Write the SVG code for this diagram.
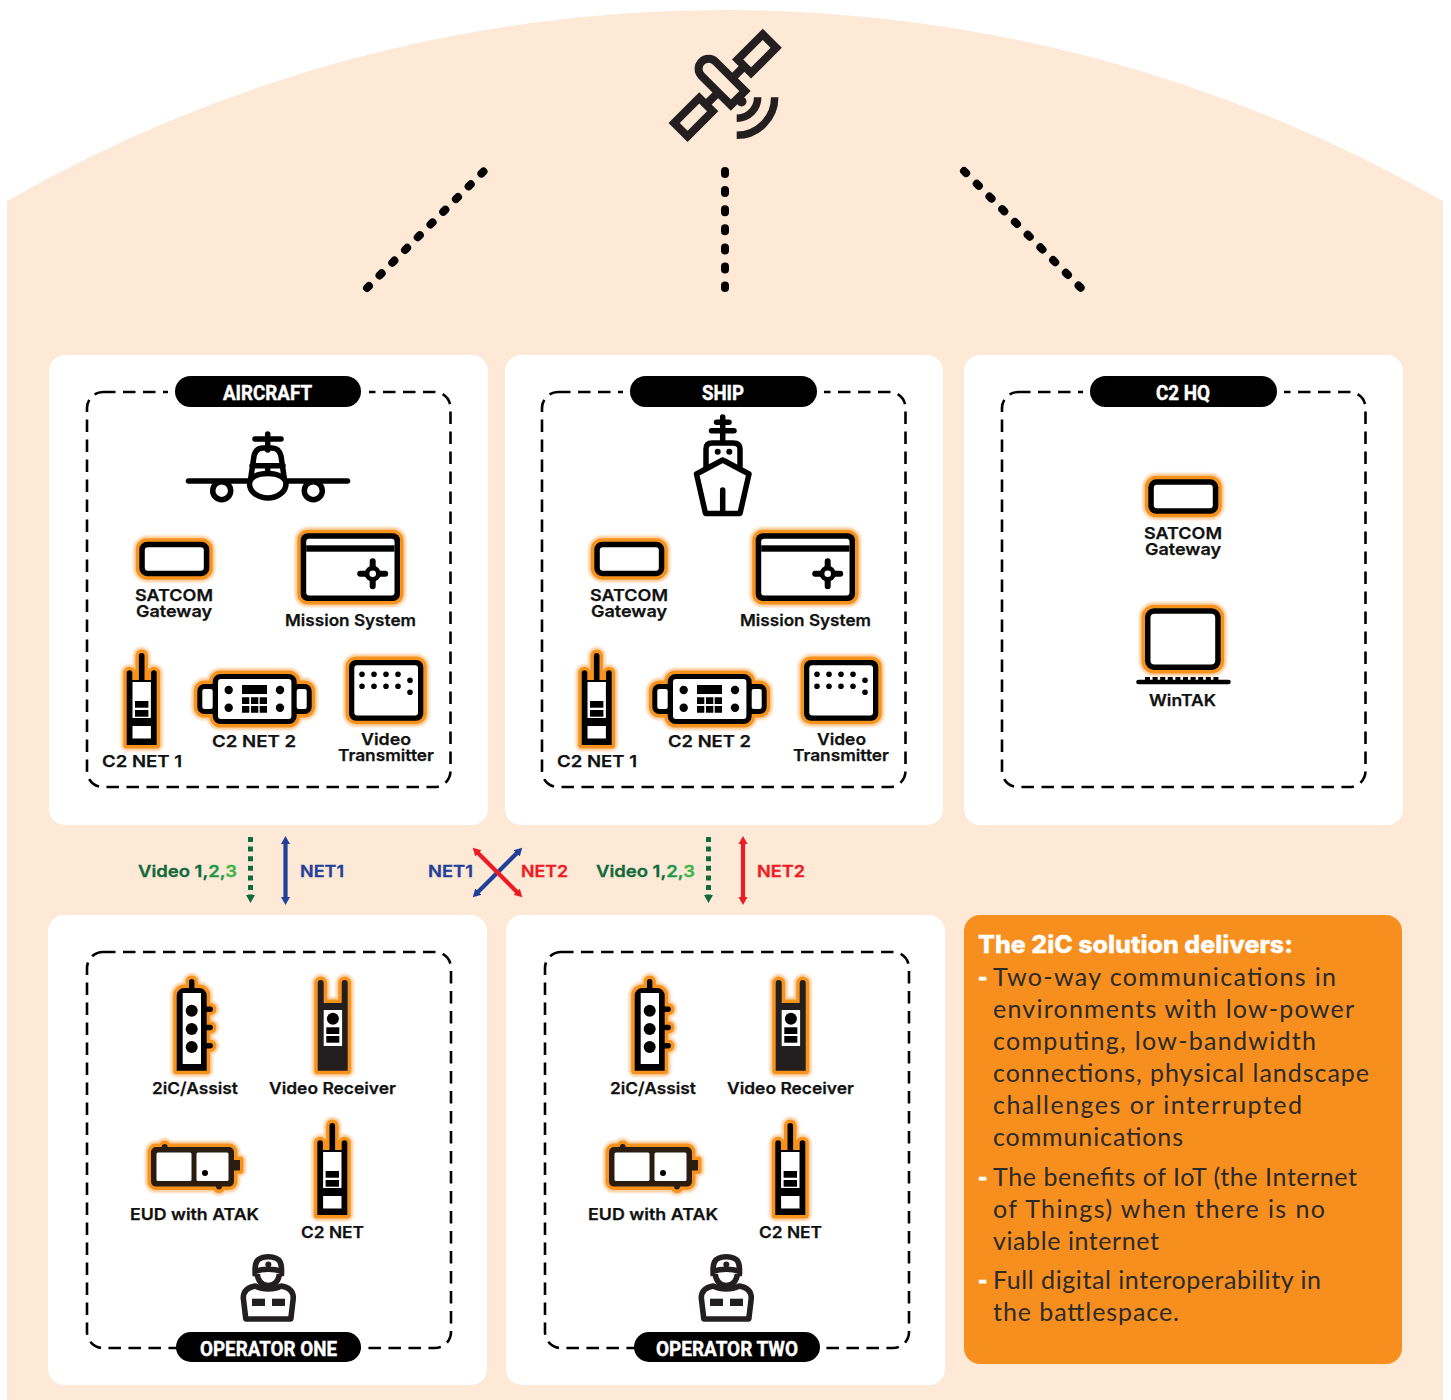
<svg xmlns="http://www.w3.org/2000/svg" width="1451" height="1400" viewBox="0 0 1451 1400">
<style>
text{font-family:"Inter","Lato","Liberation Sans",sans-serif}
.l{font-size:16.6px;font-weight:600;fill:#111;stroke:#111;stroke-width:.25}
.p{font-family:"Liberation Sans Narrow","Roboto","Liberation Sans",sans-serif;font-size:21px;font-weight:700;fill:#fff;stroke:#fff;stroke-width:.45}
.b{font-family:"Lato","Inter",sans-serif;font-size:25px;font-weight:400;fill:#2b2a29}
.dash{font-family:"Lato","Inter",sans-serif;font-size:25px;font-weight:900;fill:#fff;stroke:#fff;stroke-width:.8}
.a{font-size:16.4px;font-weight:600;stroke-width:.3}
.panel{fill:#fff}
.box{fill:none;stroke:#000;stroke-width:2.6;stroke-dasharray:12.5 7.5}
.pill{fill:#000}
.gap{fill:#fff}
.h{fill:#fbcf9f;stroke:#fbcf9f;stroke-width:12;stroke-linejoin:round;filter:url(#soft)}
.o{fill:#f7931e;stroke:#f7931e;stroke-width:7;stroke-linejoin:round;filter:url(#soft2)}
.k{fill:#000}
.w{fill:#fff}
.s{fill:none;stroke:#000;stroke-width:5.5;stroke-linecap:round;stroke-linejoin:round}
.sk{fill:#fee8d6;stroke:#231f20;stroke-width:8;stroke-linejoin:miter}
.dots{fill:none;stroke:#000;stroke-width:8;stroke-linecap:round}
.blue{stroke:#21409a;stroke-width:4.2;fill:none}
.red{stroke:#ed1c24;stroke-width:4.2;fill:none}
.green{stroke:#0f6b3a;stroke-width:5;fill:none;stroke-dasharray:5 4.6}
</style>
<defs>
<filter id="soft" x="-30%" y="-30%" width="160%" height="160%"><feGaussianBlur stdDeviation="1.1"/></filter>
<filter id="soft2" x="-30%" y="-30%" width="160%" height="160%"><feGaussianBlur stdDeviation=".5"/></filter>
<marker id="mb" markerUnits="userSpaceOnUse" markerWidth="10" markerHeight="10" refX="2" refY="5" orient="auto-start-reverse"><path d="M0 .5L8 5L0 9.5Z" fill="#21409a"/></marker>
<marker id="mr" markerUnits="userSpaceOnUse" markerWidth="10" markerHeight="10" refX="2" refY="5" orient="auto-start-reverse"><path d="M0 .5L8 5L0 9.5Z" fill="#ed1c24"/></marker>
<marker id="mg" markerUnits="userSpaceOnUse" markerWidth="10" markerHeight="10" refX="2" refY="5" orient="auto"><path d="M0 .5L8 5L0 9.5Z" fill="#0f6b3a"/></marker>

<rect id="sil-gw" width="70" height="34.5" rx="8"/>
<g id="i-gw"><use href="#sil-gw" class="h"/><use href="#sil-gw" class="o"/><use href="#sil-gw" class="k"/><rect class="w" x="5.5" y="5.5" width="59" height="23.5" rx="3"/></g>

<rect id="sil-ms" width="99.3" height="67.7" rx="7"/>
<g id="i-ms"><use href="#sil-ms" class="h"/><use href="#sil-ms" class="o"/><use href="#sil-ms" class="k"/><rect class="w" x="5.5" y="5.5" width="88.3" height="56.7" rx="3"/><rect class="k" x="5.5" y="12" width="88.3" height="6.4"/>
<path class="s" d="M72 28V53M59.5 40.4H84.5" style="stroke-width:6"/><circle class="k" cx="72" cy="40.4" r="8"/><circle class="w" cx="72" cy="40.4" r="3.3"/></g>

<path id="sil-r" d="M-15 20a2.8 2.8 0 0 1 5.6 0V27H-2.8V2.8a2.8 2.8 0 0 1 5.6 0V27H9.4V20a2.8 2.8 0 0 1 5.6 0V92H-15Z"/>
<g id="i-r"><use href="#sil-r" class="h"/><use href="#sil-r" class="o"/><use href="#sil-r" class="k"/><rect class="w" x="-9.2" y="29" width="18.4" height="36"/><rect class="w" x="-9.2" y="73" width="18.4" height="12.5"/><rect class="k" x="-6.7" y="48" width="13.4" height="6.7"/><rect class="k" x="-6.7" y="57" width="13.4" height="6.7"/></g>

<path id="sil-c" d="M23.4 0H91.4a8 8 0 0 1 8 8V10H107.4a7 7 0 0 1 7 7V33a7 7 0 0 1 -7 7H99.4V42a8 8 0 0 1 -8 8H23.4a8 8 0 0 1 -8 -8V40H7a7 7 0 0 1 -7 -7V17a7 7 0 0 1 7 -7H15.4V8a8 8 0 0 1 8 -8Z"/>
<g id="i-c"><use href="#sil-c" class="h"/><use href="#sil-c" class="o"/><use href="#sil-c" class="k"/><rect class="w" x="20.7" y="5" width="73.4" height="40" rx="3"/><rect class="w" x="5" y="15" width="10.4" height="20" rx="2"/><rect class="w" x="99.4" y="15" width="10" height="20" rx="2"/>
<circle class="k" cx="31.4" cy="16" r="4.2"/><circle class="k" cx="82.7" cy="16" r="4.2"/><circle class="k" cx="31.4" cy="33.7" r="4.2"/><circle class="k" cx="82.7" cy="33.7" r="4.2"/>
<path class="k" d="M44.7 11H69.7V20H44.7ZM44.7 23.3H52V30H44.7ZM53.7 23.3H61V30H53.7ZM62.4 23.3H69.7V30H62.4ZM44.7 32H52V38.7H44.7ZM53.7 32H61V38.7H53.7ZM62.4 32H69.7V38.7H62.4Z"/></g>

<rect id="sil-v" width="74.3" height="60.7" rx="7"/>
<g id="i-v"><use href="#sil-v" class="h"/><use href="#sil-v" class="o"/><use href="#sil-v" class="k"/><rect class="w" x="5.3" y="5.3" width="63.7" height="50.1" rx="3"/>
<g class="k"><circle cx="13" cy="14.3" r="2.8"/><circle cx="25" cy="14.3" r="2.8"/><circle cx="37" cy="14.3" r="2.8"/><circle cx="49" cy="14.3" r="2.8"/><circle cx="13" cy="26.3" r="2.8"/><circle cx="25" cy="26.3" r="2.8"/><circle cx="37" cy="26.3" r="2.8"/><circle cx="49" cy="26.3" r="2.8"/><circle cx="61" cy="20.3" r="2.8"/><circle cx="61" cy="32.3" r="2.8"/></g></g>

<path id="sil-a" d="M-2.7 2.7a2.7 2.7 0 0 1 5.4 0V9H7.5a7.5 7.5 0 0 1 7.5 7.5V27.5H18.5a2.7 2.7 0 0 1 0 5.4H15V45.8H18.5a2.7 2.7 0 0 1 0 5.4H15V64.1H18.5a2.7 2.7 0 0 1 0 5.4H15V91.7H-15V16.5A7.5 7.5 0 0 1 -7.5 9H-2.7Z"/>
<g id="i-a"><use href="#sil-a" class="h"/><use href="#sil-a" class="o"/><use href="#sil-a" class="k"/><rect class="w" x="-9" y="14" width="18.3" height="71"/><circle class="k" cy="31.7" r="6"/><circle class="k" cy="50" r="6"/><circle class="k" cy="68" r="6"/></g>

<path id="sil-vr" d="M-15 3a3 3 0 0 1 6 0V23H9V3a3 3 0 0 1 6 0V90.7H-15Z"/>
<g id="i-vr"><use href="#sil-vr" class="h"/><use href="#sil-vr" class="o"/><path fill="#231f20" d="M-15 3a3 3 0 0 1 6 0V23H9V3a3 3 0 0 1 6 0V90.7H-15Z"/><rect class="w" x="-9" y="30" width="18.4" height="36"/><circle class="k" cx="0.2" cy="38.7" r="6"/><rect class="k" x="-6.4" y="47.3" width="13" height="6.7"/><rect class="k" x="-6.4" y="56" width="13" height="6.7"/></g>

<path id="sil-e" d="M0 8a5 5 0 0 1 5 -5H10.7a3 3 0 0 1 6 0H78a5 5 0 0 1 5 5V16H89V26.6H83V37.6a5 5 0 0 1 -5 5H71a3 3 0 0 1 -6 0H5a5 5 0 0 1 -5 -5Z"/>
<g id="i-e" transform="translate(0 -3)"><use href="#sil-e" class="h"/><use href="#sil-e" class="o"/><use href="#sil-e" fill="#2a1d10"/><rect class="w" x="5.5" y="8.5" width="35" height="28.5" rx="1.5"/><rect class="w" x="45.5" y="8.5" width="32" height="28.5" rx="1.5"/><circle class="k" cx="54" cy="29" r="3"/></g>

<g id="i-op"><path fill="none" stroke="#231f20" stroke-width="5.6" stroke-linejoin="round" d="M-13 22C-14 10-13 2.8 0 2.8S14 10 13 22M-13 17.5C-6 14.5 6 14.5 13 17.5M-11.5 18C-10.5 27-6.5 31.5 0 31.5S10.5 27 11.5 18"/><circle fill="#231f20" cy="10.5" r="3"/>
<path fill="#fff" stroke="#231f20" stroke-width="5.6" stroke-linejoin="round" d="M-22.5 65L-25 44C-25 36-19 33-13 32C-5 36 5 36 13 32C19 33 25 36 25 44L22.5 65Z"/><rect x="-16.3" y="44.7" width="13" height="7.3" fill="#231f20"/><rect x="3.7" y="44.7" width="13" height="7.3" fill="#231f20"/></g>
</defs>

<rect width="1451" height="1400" fill="#fff"/>
<path id="bg" fill="#fee8d6" d="M7 201A1445 1445 0 0 1 1443 201V1400H7Z"/>

<g id="satellite" transform="translate(725.2 85.4) rotate(-45)">
<path fill="#231f20" d="M-30 -4H30V4H-30Z"/>
<rect class="sk" x="27.1" y="-9.5" width="35.5" height="19"/>
<rect class="sk" x="-62.7" y="-9.5" width="35.5" height="19"/>
<path class="sk" d="M-10 18V-23.5a10 10 0 0 1 20 0V18Z"/>
</g>
<g id="satellite-signal"><circle cx="741.5" cy="101.5" r="5" fill="#231f20"/><path fill="none" stroke="#231f20" stroke-width="7.5" d="M736.7 118.3A21 21 0 0 0 757.7 97.3M736.7 135.3A38 38 0 0 0 774.7 97.3"/></g>

<g id="connectors">
<path class="dots" stroke-dasharray="3 15" d="M483.5 171.5L367 288"/>
<path class="dots" stroke-dasharray="3 16.1" d="M725 171V288"/>
<path class="dots" stroke-dasharray="3 15" d="M964 171L1081 288"/>
<path class="green" marker-end="url(#mg)" d="M250.5 837V897"/>
<path class="blue" marker-start="url(#mb)" marker-end="url(#mb)" d="M285.5 842V899"/>
<path class="blue" marker-start="url(#mb)" marker-end="url(#mb)" d="M518 852L477 893"/>
<path class="red" marker-start="url(#mr)" marker-end="url(#mr)" d="M477 852L518 893"/>
<path class="green" marker-end="url(#mg)" d="M708.5 837V897"/>
<path class="red" marker-start="url(#mr)" marker-end="url(#mr)" d="M743 842V899"/>
</g>

<g id="aircraft">
<rect class="panel" x="49" y="355" width="439" height="470" rx="16"/>
<rect class="box" x="87" y="392" width="363.5" height="395" rx="16"/>
<rect class="gap" x="168" y="385" width="201" height="14"/>
<rect class="pill" x="175" y="376" width="186" height="31" rx="15.5"/>
<text class="p" x="223" y="400" textLength="89" lengthAdjust="spacingAndGlyphs">AIRCRAFT</text>
<g id="plane-icon" class="s"><path d="M188.5 481H347.5"/><path d="M255 439H281M267.7 434V450"/><circle cx="221.7" cy="490.7" r="9" fill="#fff"/><circle cx="313.3" cy="490.7" r="9" fill="#fff"/>
<path d="M250.5 480L254 456Q256 448 263 448H272Q279 448 281 456L284.5 480M252 465.7H283M267.7 465.7V473"/><path fill="#fff" d="M249.5 484C249.5 477 258 473.5 267.7 473.5S286 477 286 484C286 492 277 498 267.7 498S249.5 492 249.5 484Z"/></g>
<use href="#i-gw" x="139.3" y="541.7"/>
<text class="l" x="135" y="600.5" textLength="78" lengthAdjust="spacingAndGlyphs">SATCOM</text>
<text class="l" x="136" y="616.5" textLength="76" lengthAdjust="spacingAndGlyphs">Gateway</text>
<use href="#i-ms" x="300.7" y="533.3"/>
<text class="l" x="285" y="626" textLength="131" lengthAdjust="spacingAndGlyphs">Mission System</text>
<use href="#i-r" x="141.7" y="653"/>
<text class="l" x="102" y="767" textLength="80" lengthAdjust="spacingAndGlyphs">C2 NET 1</text>
<use href="#i-c" x="197.3" y="674"/>
<text class="l" x="212" y="747" textLength="84" lengthAdjust="spacingAndGlyphs">C2 NET 2</text>
<use href="#i-v" x="349" y="660"/>
<text class="l" x="361" y="744.5" textLength="50" lengthAdjust="spacingAndGlyphs">Video</text>
<text class="l" x="338" y="760.5" textLength="96" lengthAdjust="spacingAndGlyphs">Transmitter</text>
</g>

<g id="ship">
<rect class="panel" x="505" y="355" width="438" height="470" rx="16"/>
<rect class="box" x="542" y="392" width="363.5" height="395" rx="16"/>
<rect class="gap" x="623" y="385" width="201" height="14"/>
<rect class="pill" x="630" y="376" width="187" height="31" rx="15.5"/>
<text class="p" x="702" y="400" textLength="42" lengthAdjust="spacingAndGlyphs">SHIP</text>
<g id="ship-icon" class="s"><path d="M722.7 417V442M716.5 422.3H729M711.5 430.7H734"/><path d="M706 468V449Q706 443 712 443H733Q740 443 740 449V468"/><path d="M722.7 460L696.5 474L705.5 513.5H740L749 474ZM722.7 490V513"/><circle cx="717.7" cy="451.7" r="3" fill="#000" stroke="none"/><circle cx="729.3" cy="451.7" r="3" fill="#000" stroke="none"/></g>
<use href="#i-gw" x="594.3" y="541.7"/>
<text class="l" x="590" y="600.5" textLength="78" lengthAdjust="spacingAndGlyphs">SATCOM</text>
<text class="l" x="591" y="616.5" textLength="76" lengthAdjust="spacingAndGlyphs">Gateway</text>
<use href="#i-ms" x="755.7" y="533.3"/>
<text class="l" x="740" y="626" textLength="131" lengthAdjust="spacingAndGlyphs">Mission System</text>
<use href="#i-r" x="596.7" y="653"/>
<text class="l" x="557" y="767" textLength="80" lengthAdjust="spacingAndGlyphs">C2 NET 1</text>
<use href="#i-c" x="652.3" y="674"/>
<text class="l" x="668" y="747" textLength="83" lengthAdjust="spacingAndGlyphs">C2 NET 2</text>
<use href="#i-v" x="804" y="660"/>
<text class="l" x="817" y="744.5" textLength="49" lengthAdjust="spacingAndGlyphs">Video</text>
<text class="l" x="793" y="760.5" textLength="96" lengthAdjust="spacingAndGlyphs">Transmitter</text>
</g>

<g id="c2hq">
<rect class="panel" x="964" y="355" width="439" height="470" rx="16"/>
<rect class="box" x="1002" y="392" width="363.5" height="395" rx="16"/>
<rect class="gap" x="1083" y="385" width="201" height="14"/>
<rect class="pill" x="1090" y="376" width="187" height="31" rx="15.5"/>
<text class="p" x="1156" y="400" textLength="54" lengthAdjust="spacingAndGlyphs">C2 HQ</text>
<use href="#i-gw" x="1148.3" y="479.3"/>
<text class="l" x="1144" y="538.5" textLength="78" lengthAdjust="spacingAndGlyphs">SATCOM</text>
<text class="l" x="1145" y="554.5" textLength="76" lengthAdjust="spacingAndGlyphs">Gateway</text>
<g id="wintak-icon"><rect class="h" x="1145" y="608.3" width="75.7" height="61.7" rx="9"/><rect class="o" x="1145" y="608.3" width="75.7" height="61.7" rx="9"/><rect class="k" x="1145" y="608.3" width="75.7" height="61.7" rx="9"/><rect class="w" x="1150.5" y="613.8" width="64.7" height="50.7" rx="4"/><path stroke="#000" stroke-width="4.6" stroke-linecap="round" d="M1138.5 682H1228.5"/><path stroke="#000" stroke-width="3" stroke-dasharray="5 2.6" d="M1145 678.5H1221"/></g>
<text class="l" x="1149" y="706" textLength="67" lengthAdjust="spacingAndGlyphs">WinTAK</text>
</g>

<g id="link-labels">
<text class="a" x="138" y="877" fill="#0f6b3a" stroke="#0f6b3a" textLength="99" lengthAdjust="spacingAndGlyphs">Video 1,<tspan fill="#1a9a4a" stroke="#1a9a4a">2,</tspan><tspan fill="#3cb54a" stroke="#3cb54a">3</tspan></text>
<text class="a" x="300" y="877" fill="#21409a" stroke="#21409a" textLength="44" lengthAdjust="spacingAndGlyphs">NET1</text>
<text class="a" x="428" y="877" fill="#21409a" stroke="#21409a" textLength="45" lengthAdjust="spacingAndGlyphs">NET1</text>
<text class="a" x="521" y="877" fill="#ed1c24" stroke="#ed1c24" textLength="47" lengthAdjust="spacingAndGlyphs">NET2</text>
<text class="a" x="596" y="877" fill="#0f6b3a" stroke="#0f6b3a" textLength="99" lengthAdjust="spacingAndGlyphs">Video 1,<tspan fill="#1a9a4a" stroke="#1a9a4a">2,</tspan><tspan fill="#3cb54a" stroke="#3cb54a">3</tspan></text>
<text class="a" x="757" y="877" fill="#ed1c24" stroke="#ed1c24" textLength="48" lengthAdjust="spacingAndGlyphs">NET2</text>
</g>

<g id="operator-one">
<rect class="panel" x="48" y="915" width="439" height="470" rx="16"/>
<rect class="box" x="87" y="952" width="364" height="396" rx="16"/>
<rect class="pill" x="176" y="1332" width="185" height="30" rx="15"/>
<text class="p" x="200" y="1355.5" textLength="137" lengthAdjust="spacingAndGlyphs">OPERATOR ONE</text>
<use href="#i-a" x="191.7" y="979"/>
<text class="l" x="152" y="1093.5" textLength="86" lengthAdjust="spacingAndGlyphs">2iC/Assist</text>
<use href="#i-vr" x="332.7" y="980"/>
<text class="l" x="269" y="1093.5" textLength="127" lengthAdjust="spacingAndGlyphs">Video Receiver</text>
<use href="#i-e" x="151" y="1147"/>
<text class="l" x="130" y="1220" textLength="129" lengthAdjust="spacingAndGlyphs">EUD with ATAK</text>
<use href="#i-r" x="332.3" y="1123"/>
<text class="l" x="301" y="1238" textLength="63" lengthAdjust="spacingAndGlyphs">C2 NET</text>
<use href="#i-op" x="268.3" y="1254"/>
</g>

<g id="operator-two">
<rect class="panel" x="506" y="915" width="439" height="470" rx="16"/>
<rect class="box" x="545" y="952" width="364" height="396" rx="16"/>
<rect class="pill" x="634" y="1332" width="186" height="30" rx="15"/>
<text class="p" x="656" y="1355.5" textLength="142" lengthAdjust="spacingAndGlyphs">OPERATOR TWO</text>
<use href="#i-a" x="649.7" y="979"/>
<text class="l" x="610" y="1093.5" textLength="86" lengthAdjust="spacingAndGlyphs">2iC/Assist</text>
<use href="#i-vr" x="790.7" y="980"/>
<text class="l" x="727" y="1093.5" textLength="127" lengthAdjust="spacingAndGlyphs">Video Receiver</text>
<use href="#i-e" x="609" y="1147"/>
<text class="l" x="588" y="1220" textLength="130" lengthAdjust="spacingAndGlyphs">EUD with ATAK</text>
<use href="#i-r" x="790.3" y="1123"/>
<text class="l" x="759" y="1238" textLength="63" lengthAdjust="spacingAndGlyphs">C2 NET</text>
<use href="#i-op" x="726.3" y="1254"/>
</g>

<g id="summary">
<rect x="964" y="915" width="438" height="449" rx="16" fill="#f78f1e"/>
<text x="978" y="953" font-size="24" font-weight="800" fill="#fff" stroke="#fff" stroke-width=".3" textLength="315" lengthAdjust="spacingAndGlyphs">The 2iC solution delivers:</text>
<text class="dash" x="978" y="986">-</text><text class="dash" x="978" y="1186">-</text><text class="dash" x="978" y="1289">-</text>
<text class="b" x="993" y="986" textLength="343">Two-way communications in</text>
<text class="b" x="993" y="1018" textLength="361">environments with low-power</text>
<text class="b" x="993" y="1050" textLength="323">computing, low-bandwidth</text>
<text class="b" x="993" y="1082" textLength="376">connections, physical landscape</text>
<text class="b" x="993" y="1114" textLength="309">challenges or interrupted</text>
<text class="b" x="993" y="1146" textLength="190">communications</text>
<text class="b" x="993" y="1186" textLength="364">The benefits of IoT (the Internet</text>
<text class="b" x="993" y="1218" textLength="332">of Things) when there is no</text>
<text class="b" x="993" y="1250" textLength="166">viable internet</text>
<text class="b" x="993" y="1289" textLength="328">Full digital interoperability in</text>
<text class="b" x="993" y="1321" textLength="186">the battlespace.</text>
</g>
</svg>
